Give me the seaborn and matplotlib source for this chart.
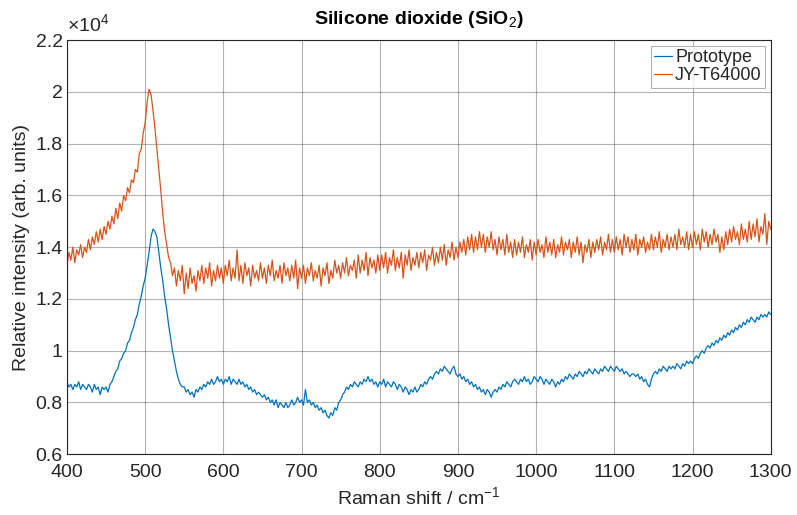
import numpy as np
import pandas as pd
import seaborn as sns
from matplotlib import pyplot as plt
from matplotlib.ticker import FormatStrFormatter

# Raman shift grid (cm^-1), one reading every 2.5 cm^-1
raman_shift = np.arange(400, 1300.1, 2.5)

# Intensities in units of 1e4 counts (one row = 25 cm^-1)
prototype = [
    0.88, 0.86, 0.87, 0.85, 0.87, 0.86, 0.88, 0.85, 0.87, 0.86,  # 400
    0.85, 0.87, 0.86, 0.84, 0.87, 0.85, 0.86, 0.83, 0.86, 0.85,  # 425
    0.86, 0.84, 0.87, 0.88, 0.90, 0.92, 0.93, 0.96, 0.97, 0.99,  # 450
    1.00, 1.03, 1.04, 1.07, 1.09, 1.12, 1.14, 1.18, 1.21, 1.25,  # 475
    1.28, 1.33, 1.38, 1.44, 1.47, 1.46, 1.44, 1.38, 1.32, 1.27,  # 500
    1.21, 1.16, 1.10, 1.05, 1.00, 0.96, 0.92, 0.89, 0.87, 0.86,  # 525
    0.86, 0.84, 0.85, 0.83, 0.84, 0.82, 0.85, 0.84, 0.86, 0.85,  # 550
    0.87, 0.86, 0.88, 0.87, 0.89, 0.87, 0.88, 0.90, 0.88, 0.89,  # 575
    0.87, 0.89, 0.88, 0.90, 0.87, 0.89, 0.88, 0.87, 0.89, 0.87,  # 600
    0.88, 0.86, 0.87, 0.85, 0.86, 0.84, 0.85, 0.83, 0.84, 0.83,  # 625
    0.82, 0.83, 0.81, 0.82, 0.80, 0.81, 0.79, 0.81, 0.78, 0.80,  # 650
    0.79, 0.78, 0.80, 0.78, 0.79, 0.81, 0.79, 0.80, 0.82, 0.80,  # 675
    0.81, 0.79, 0.85, 0.80, 0.81, 0.79, 0.80, 0.78, 0.79, 0.77,  # 700
    0.78, 0.76, 0.77, 0.75, 0.74, 0.76, 0.75, 0.78, 0.77, 0.80,  # 725
    0.81, 0.83, 0.84, 0.86, 0.85, 0.87, 0.86, 0.88, 0.87, 0.86,  # 750
    0.88, 0.87, 0.89, 0.88, 0.90, 0.88, 0.89, 0.87, 0.88, 0.86,  # 775
    0.88, 0.87, 0.89, 0.86, 0.88, 0.87, 0.86, 0.88, 0.87, 0.85,  # 800
    0.87, 0.86, 0.84, 0.86, 0.85, 0.83, 0.85, 0.84, 0.86, 0.84,  # 825
    0.85, 0.87, 0.86, 0.88, 0.87, 0.89, 0.90, 0.89, 0.91, 0.92,  # 850
    0.91, 0.93, 0.92, 0.94, 0.93, 0.92, 0.91, 0.93, 0.94, 0.91,  # 875
    0.90, 0.91, 0.89, 0.90, 0.88, 0.89, 0.87, 0.88, 0.86, 0.87,  # 900
    0.85, 0.86, 0.84, 0.85, 0.83, 0.85, 0.84, 0.82, 0.84, 0.85,  # 925
    0.84, 0.86, 0.85, 0.87, 0.86, 0.88, 0.87, 0.86, 0.88, 0.89,  # 950
    0.88, 0.87, 0.89, 0.88, 0.90, 0.88, 0.89, 0.87, 0.88, 0.90,  # 975
    0.89, 0.88, 0.90, 0.89, 0.87, 0.89, 0.88, 0.87, 0.89, 0.88,  # 1000
    0.86, 0.88, 0.87, 0.89, 0.88, 0.90, 0.89, 0.91, 0.90, 0.89,  # 1025
    0.91, 0.90, 0.92, 0.91, 0.90, 0.92, 0.91, 0.93, 0.92, 0.91,  # 1050
    0.93, 0.92, 0.91, 0.93, 0.92, 0.94, 0.93, 0.92, 0.94, 0.93,  # 1075
    0.92, 0.94, 0.93, 0.92, 0.93, 0.91, 0.92, 0.91, 0.90, 0.91,  # 1100
    0.91, 0.90, 0.91, 0.89, 0.90, 0.88, 0.89, 0.87, 0.86, 0.89,  # 1125
    0.91, 0.92, 0.91, 0.93, 0.92, 0.94, 0.93, 0.92, 0.94, 0.93,  # 1150
    0.94, 0.93, 0.95, 0.94, 0.93, 0.95, 0.94, 0.96, 0.95, 0.96,  # 1175
    0.95, 0.97, 0.98, 0.97, 0.99, 1.00, 0.99, 1.01, 1.02, 1.01,  # 1200
    1.03, 1.02, 1.04, 1.03, 1.05, 1.04, 1.06, 1.05, 1.07, 1.06,  # 1225
    1.08, 1.07, 1.09, 1.08, 1.10, 1.09, 1.11, 1.10, 1.12, 1.11,  # 1250
    1.13, 1.12, 1.11, 1.13, 1.12, 1.14, 1.13, 1.14, 1.13, 1.15,  # 1275
    1.14,
]

jy_t64000 = [
    1.33, 1.38, 1.35, 1.40, 1.34, 1.39, 1.37, 1.41, 1.36, 1.40,  # 400
    1.38, 1.43, 1.39, 1.44, 1.41, 1.46, 1.42, 1.47, 1.43, 1.48,  # 425
    1.45, 1.50, 1.47, 1.52, 1.49, 1.55, 1.51, 1.57, 1.54, 1.60,  # 450
    1.58, 1.63, 1.61, 1.66, 1.65, 1.70, 1.69, 1.76, 1.78, 1.84,  # 475
    1.88, 1.96, 2.01, 1.99, 1.93, 1.86, 1.78, 1.70, 1.62, 1.53,  # 500
    1.46, 1.41, 1.36, 1.34, 1.29, 1.32, 1.25, 1.31, 1.27, 1.33,  # 525
    1.22, 1.30, 1.24, 1.32, 1.26, 1.29, 1.23, 1.31, 1.27, 1.33,  # 550
    1.26, 1.32, 1.28, 1.34, 1.25, 1.31, 1.27, 1.33, 1.28, 1.32,  # 575
    1.26, 1.33, 1.29, 1.35, 1.27, 1.32, 1.28, 1.39, 1.27, 1.33,  # 600
    1.26, 1.34, 1.29, 1.32, 1.25, 1.33, 1.28, 1.31, 1.27, 1.34,  # 625
    1.28, 1.32, 1.26, 1.33, 1.29, 1.35, 1.27, 1.31, 1.28, 1.33,  # 650
    1.26, 1.34, 1.29, 1.32, 1.27, 1.33, 1.28, 1.35, 1.24, 1.32,  # 675
    1.28, 1.33, 1.26, 1.32, 1.29, 1.34, 1.27, 1.31, 1.28, 1.33,  # 700
    1.25, 1.32, 1.29, 1.34, 1.26, 1.31, 1.28, 1.35, 1.30, 1.33,  # 725
    1.28, 1.34, 1.30, 1.36, 1.29, 1.33, 1.31, 1.35, 1.28, 1.37,  # 750
    1.30, 1.35, 1.31, 1.38, 1.29, 1.36, 1.32, 1.35, 1.30, 1.37,  # 775
    1.31, 1.37, 1.32, 1.38, 1.30, 1.36, 1.33, 1.39, 1.31, 1.36,  # 800
    1.32, 1.38, 1.28, 1.37, 1.33, 1.39, 1.31, 1.36, 1.33, 1.38,  # 825
    1.32, 1.38, 1.34, 1.39, 1.31, 1.37, 1.35, 1.40, 1.33, 1.38,  # 850
    1.34, 1.40, 1.35, 1.41, 1.33, 1.39, 1.36, 1.42, 1.35, 1.40,  # 875
    1.36, 1.42, 1.38, 1.43, 1.37, 1.44, 1.39, 1.45, 1.38, 1.44,  # 900
    1.39, 1.46, 1.40, 1.45, 1.38, 1.44, 1.40, 1.46, 1.39, 1.43,  # 925
    1.37, 1.44, 1.39, 1.43, 1.37, 1.45, 1.38, 1.42, 1.36, 1.43,  # 950
    1.37, 1.42, 1.38, 1.44, 1.36, 1.41, 1.38, 1.43, 1.35, 1.42,  # 975
    1.37, 1.43, 1.38, 1.41, 1.36, 1.44, 1.38, 1.42, 1.37, 1.43,  # 1000
    1.36, 1.41, 1.38, 1.44, 1.37, 1.42, 1.39, 1.43, 1.36, 1.42,  # 1025
    1.38, 1.44, 1.37, 1.42, 1.34, 1.41, 1.38, 1.43, 1.36, 1.42,  # 1050
    1.38, 1.43, 1.39, 1.44, 1.37, 1.42, 1.39, 1.45, 1.38, 1.43,  # 1075
    1.38, 1.44, 1.39, 1.43, 1.37, 1.45, 1.40, 1.44, 1.38, 1.43,  # 1100
    1.39, 1.45, 1.37, 1.43, 1.40, 1.44, 1.38, 1.42, 1.39, 1.45,  # 1125
    1.39, 1.44, 1.40, 1.46, 1.38, 1.43, 1.40, 1.45, 1.39, 1.44,  # 1150
    1.40, 1.45, 1.39, 1.47, 1.41, 1.44, 1.40, 1.46, 1.39, 1.45,  # 1175
    1.40, 1.46, 1.41, 1.45, 1.39, 1.47, 1.42, 1.46, 1.40, 1.45,  # 1200
    1.41, 1.47, 1.42, 1.45, 1.38, 1.44, 1.39, 1.46, 1.41, 1.47,  # 1225
    1.42, 1.48, 1.43, 1.46, 1.41, 1.49, 1.43, 1.47, 1.42, 1.50,  # 1250
    1.43, 1.49, 1.44, 1.51, 1.42, 1.48, 1.45, 1.53, 1.41, 1.50,  # 1275
    1.47,
]

series_names = ["Prototype", "JY-T64000"]
series_colors = ["#0072BD", "#D95319"]


def main():
    sns.set_theme(style="white")
    plt.rcParams["font.family"] = ["Liberation Sans", "DejaVu Sans"]
    plt.rcParams["mathtext.fontset"] = "custom"
    plt.rcParams["mathtext.rm"] = "Liberation Sans"

    n = len(raman_shift)
    assert len(prototype) == n and len(jy_t64000) == n
    df = pd.DataFrame({
        "Raman shift": np.concatenate([raman_shift, raman_shift]),
        "Intensity": np.concatenate([prototype, jy_t64000]),
        "Series": [series_names[0]] * n + [series_names[1]] * n,
    })

    fig = plt.figure(figsize=(7.97, 5.15), dpi=100)
    ax = fig.add_axes([0.084, 0.118, 0.883, 0.804])
    sns.lineplot(data=df, x="Raman shift", y="Intensity", hue="Series",
                 palette=series_colors, linewidth=0.9, ax=ax)

    ax.set_xlim(400, 1300)
    ax.set_ylim(0.6, 2.2)
    ax.set_xticks(np.arange(400, 1301, 100))
    ax.set_yticks(np.arange(0.6, 2.21, 0.2))
    ax.yaxis.set_major_formatter(FormatStrFormatter("%g"))
    ax.tick_params(labelsize=14, length=0, colors="#262626")
    ax.tick_params(axis="x", pad=7)
    ax.tick_params(axis="y", pad=3)
    ax.grid(True, color="#262626", alpha=0.35, linewidth=0.8)
    for spine in ax.spines.values():
        spine.set_color("#262626")
        spine.set_linewidth(0.8)

    ax.set_xlabel("Raman shift / cm$^{-1}$", fontsize=14, color="#262626", labelpad=4)
    ax.set_ylabel("Relative intensity (arb. units)", fontsize=14, color="#262626", labelpad=4)
    ax.set_title("Silicone dioxide (SiO$_2$)", fontsize=14, fontweight="bold",
                 color="black", pad=12)
    ax.text(0.0, 1.01, r"$\times10^4$", transform=ax.transAxes, fontsize=14,
            ha="left", va="bottom", color="#262626")

    leg = ax.legend(title=None, loc="upper right", fontsize=13, frameon=True,
                    fancybox=False, handlelength=1.0, handletextpad=0.15,
                    borderpad=0.2, labelspacing=0.05, borderaxespad=0.3)
    leg.get_frame().set_edgecolor("#a0a0a0")
    leg.get_frame().set_linewidth(0.8)

    fig.savefig("out.png", dpi=100)


if __name__ == "__main__":
    main()
